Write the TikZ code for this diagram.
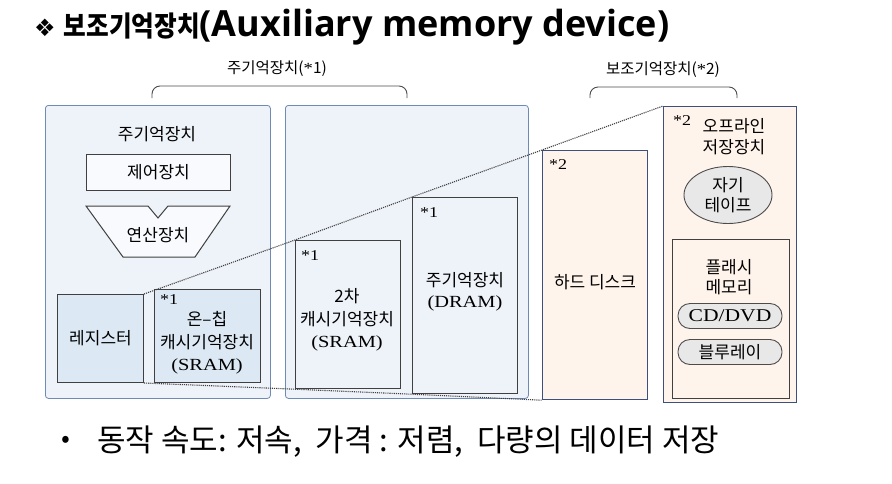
\documentclass[tikz,border=0pt]{standalone}
\usepackage{fontspec}
\setmainfont{Noto Sans CJK KR}
\newfontfamily\symfont{DejaVu Sans}
\newfontfamily\latfont{Open Sans}
\newfontfamily\titlefont[FakeStretch=0.88]{Noto Sans CJK KR}
\newfontfamily\wserif[FakeStretch=1.2]{Liberation Serif}
\usepackage{xcolor}
\usetikzlibrary{shapes.geometric, positioning, calc}

\definecolor{panelfill}{HTML}{EEF2F9}
\definecolor{panelline}{HTML}{6F8BB5}
\definecolor{cellfill}{HTML}{DCE9F5}
\definecolor{peach}{HTML}{FFF4EC}
\definecolor{navy}{HTML}{3D4F7C}
\definecolor{pillfill}{HTML}{E8E8E8}

\begin{document}
\begin{tikzpicture}[x=1pt, y=-1pt,
    font=\fontsize{17}{22.5}\selectfont,
    panel/.style={draw=panelline, fill=panelfill, rounded corners=3pt, line width=0.8pt, anchor=north west, inner sep=0},
    unit/.style={draw=black!75, line width=1.2pt, anchor=north west, inner sep=0},
    storage/.style={draw=navy, fill=peach, line width=1.2pt, anchor=north west, inner sep=0},
    pill/.style={draw=black!70, fill=pillfill, line width=0.9pt, rounded corners=12pt, minimum width=104, minimum height=25, inner sep=0},
    starlbl/.style={font=\wserif\fontsize{15}{15}\selectfont, inner sep=0, anchor=north west},
    guide/.style={densely dotted, line width=1.1pt, black!75},
    brace/.style={line width=0.9pt, black!70, rounded corners=8pt}]
    \useasboundingbox (0,0) rectangle (892,483);
    \fill[white] (0,0) rectangle (892,483);

    % Title
    \node[anchor=west, inner sep=0, font=\titlefont\fontsize{28}{30}\selectfont\bfseries] (title) at (34,27)
        {{\symfont\fontsize{24}{24}\selectfont ❖}\hspace{8pt}보조기억장치{\latfont\bfseries\fontsize{36}{36}\selectfont (Auxiliary memory device)}};

    % Groups
    \draw[brace] (152,98) -- (152,86) -- (407,86) -- (407,98);
    \node[font=\fontsize{15.5}{15.5}\selectfont] (mainlbl) at (277,69) {주기억장치({\wserif *}1)};
    \draw[brace] (590,98) -- (590,87) -- (737,87) -- (737,98);
    \node[font=\fontsize{15.5}{15.5}\selectfont] (auxlbl) at (663,70) {보조기억장치({\wserif *}2)};

    % Panels
    \node[panel, minimum width=225, minimum height=293] (cpu) at (45,105) {};
    \node[panel, minimum width=243, minimum height=293] (mem) at (285,105) {};

    % CPU
    \node (cputxt) at (157,134) {주기억장치};
    \node[unit, line width=1pt, fill=white!60!panelfill, minimum width=144, minimum height=36] (ctrl) at (86,154) {제어장치};
    \draw[line width=1pt, black!75, fill=white!60!panelfill]
        (86,206) -- (148,206) -- (158,218) -- (168,206) -- (230,206) -- (195,257) -- (123,257) -- cycle;
    \node (alu) at (158,235) {연산장치};
    \node[unit, line width=1pt, fill=cellfill, minimum width=86, minimum height=88] (reg) at (57,294) {레지스터};
    \node[unit, line width=1.4pt, fill=cellfill, minimum width=106, minimum height=93] (onchip) at (154,289) {};
    \node[starlbl] at ($(onchip.north west)+(6,5)$) {*1};
    \node[align=center] (onchiptxt) at (207,343) {온–칩\\캐시기억장치\\{\wserif\fontsize{17}{17}\selectfont (SRAM)}};

    % Memory
    \node[unit, fill=panelfill, minimum width=105, minimum height=148] (sram) at (295,240) {};
    \node[starlbl] at ($(sram.north west)+(6,10)$) {*1};
    \node[align=center] (sramtxt) at (347,320) {2차\\캐시기억장치\\{\wserif\fontsize{17}{17}\selectfont (SRAM)}};
    \node[unit, fill=panelfill, minimum width=105, minimum height=196] (dram) at (412,197) {};
    \node[starlbl] at ($(dram.north west)+(8,10)$) {*1};
    \node[align=center, font=\fontsize{17}{21}\selectfont] (dramtxt) at (465,292) {주기억장치\\{\wserif\fontsize{17}{17}\selectfont (DRAM)}};

    % Storage
    \node[storage, minimum width=105, minimum height=249] (hdd) at (542,150) {};
    \node[starlbl] at ($(hdd.north west)+(7,9)$) {*2};
    \node (hddtxt) at (595,282) {하드 디스크};
    \node[storage, minimum width=133, minimum height=296] (offline) at (663,106) {};
    \node[starlbl] at ($(offline.north west)+(10,9)$) {*2};
    \node[align=center, font=\fontsize{17}{21}\selectfont] (offtxt) at (734,137) {오프라인\\저장장치};
    \node[ellipse, draw=black!70, fill=pillfill, line width=0.9pt, minimum width=88, minimum height=57, inner sep=0, align=center, font=\fontsize{17}{20}\selectfont] (tape) at (728,195) {자기\\테이프};
    \node[draw=black!75, fill=peach, line width=1.2pt, anchor=north west, inner sep=0, minimum width=117, minimum height=159] (flash) at (672,239) {};
    \node[align=center, font=\fontsize{17}{20}\selectfont] (flashtxt) at (729,277) {플래시\\메모리};
    \node[pill] (cd) at (730,316) {\wserif\fontsize{18}{18}\selectfont CD/DVD};
    \node[pill] (bluray) at (730,352) {블루레이};

    % Guides
    \draw[guide] (reg.north east) -- (sram.north west) -- (dram.north west) -- (hdd.north west) -- (offline.north west);
    \draw[guide] (reg.south east) -- (sram.south west) -- (dram.south west) -- (hdd.south west);

    % Note
    \node[font=\fontsize{26}{26}\selectfont] (bullet) at (66,442) {•};
    \node[anchor=west, inner sep=0, font=\fontsize{31}{31}\selectfont] (note) at (97,442) {동작 속도: 저속,~~가격 : 저렴,~~다량의 데이터 저장};
\end{tikzpicture}
\end{document}
